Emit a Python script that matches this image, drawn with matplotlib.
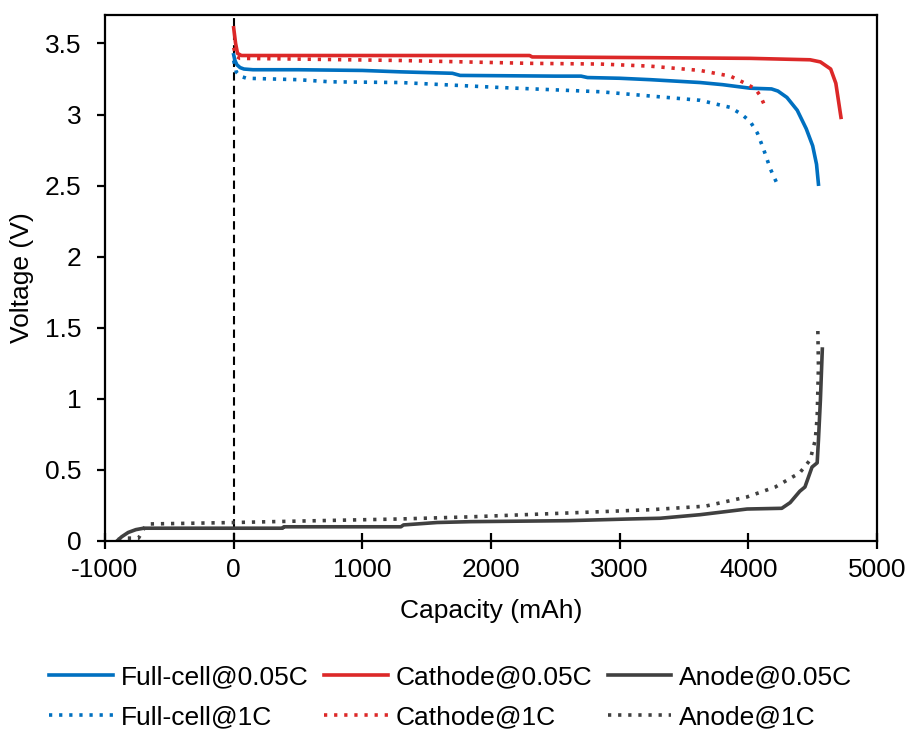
import matplotlib
matplotlib.use("Agg")
import matplotlib.pyplot as plt

plt.rcParams['font.family'] = ['Liberation Sans', 'DejaVu Sans']
plt.rcParams['axes.unicode_minus'] = False

# ---- data ----
fc05_x = [0, 10, 25, 50, 80, 150, 500, 1000, 1300, 1700, 1760, 2500, 2700, 2750, 3000, 3240, 3625, 3800, 4015, 4180, 4230, 4300, 4380, 4450, 4500, 4530, 4545]
fc05_v = [3.42, 3.38, 3.35, 3.33, 3.32, 3.315, 3.315, 3.31, 3.30, 3.29, 3.275, 3.27, 3.27, 3.26, 3.255, 3.245, 3.225, 3.21, 3.185, 3.18, 3.165, 3.12, 3.03, 2.90, 2.78, 2.65, 2.51]

fc1_x = [0, 20, 50, 100, 500, 750, 1295, 2070, 2850, 3240, 3625, 3860, 3950, 4015, 4070, 4117, 4170, 4225]
fc1_v = [3.38, 3.30, 3.27, 3.255, 3.245, 3.23, 3.225, 3.19, 3.16, 3.13, 3.10, 3.05, 3.00, 2.95, 2.87, 2.76, 2.62, 2.51]

ca05_x = [0, 15, 30, 60, 500, 2300, 2320, 3240, 4015, 4480, 4560, 4640, 4680, 4700, 4720]
ca05_v = [3.61, 3.50, 3.43, 3.415, 3.415, 3.415, 3.405, 3.40, 3.395, 3.385, 3.37, 3.32, 3.22, 3.10, 2.98]

ca1_x = [0, 20, 50, 500, 1295, 2300, 2850, 3240, 3625, 3860, 3975, 4055, 4094, 4133]
ca1_v = [3.47, 3.41, 3.395, 3.39, 3.38, 3.36, 3.355, 3.34, 3.31, 3.27, 3.22, 3.18, 3.13, 3.05]

an05_x = [-907, -870, -820, -760, -700, -650, 0, 380, 390, 1300, 1320, 1580, 1840, 2600, 3080, 3315, 3625, 3990, 4260, 4325, 4400, 4440, 4495, 4535, 4545, 4560, 4575]
an05_v = [0.0, 0.03, 0.06, 0.08, 0.09, 0.09, 0.09, 0.09, 0.10, 0.10, 0.113, 0.13, 0.136, 0.143, 0.155, 0.16, 0.185, 0.225, 0.23, 0.27, 0.35, 0.38, 0.52, 0.55, 0.71, 0.99, 1.35]

an1_x = [-900, -850, -740, -720, -690, -650, 0, 500, 1295, 1840, 2540, 3240, 3665, 3990, 4210, 4400, 4480, 4520, 4535, 4545, 4540]
an1_v = [0.01, 0.02, 0.02, 0.05, 0.10, 0.12, 0.13, 0.14, 0.155, 0.17, 0.195, 0.22, 0.245, 0.31, 0.38, 0.48, 0.57, 0.71, 0.87, 1.23, 1.49]

x_ticks = [-1000, 0, 1000, 2000, 3000, 4000, 5000]
y_ticks = [0, 0.5, 1, 1.5, 2, 2.5, 3, 3.5]
y_ticklabels = ['0', '0.5', '1', '1.5', '2', '2.5', '3', '3.5']

BLUE = '#0070C0'
RED = '#DC2828'
DARK = '#404040'
FS = 19

fig = plt.figure(figsize=(9.11, 7.38), dpi=100)
ax = fig.add_axes([105/911, 1-541/738, (877-105)/911, (541-15)/738])

lw = 2.6
dot = (0, (0.9, 1.9))
ax.axvline(0, color='black', lw=1.5, ls=(0, (4, 2.5)), zorder=1)
l1, = ax.plot(fc05_x, fc05_v, color=BLUE, lw=lw, label='Full-cell@0.05C')
l2, = ax.plot(fc1_x, fc1_v, color=BLUE, lw=lw, ls=dot, label='Full-cell@1C')
l3, = ax.plot(ca05_x, ca05_v, color=RED, lw=lw, label='Cathode@0.05C')
l4, = ax.plot(ca1_x, ca1_v, color=RED, lw=lw, ls=dot, label='Cathode@1C')
l5, = ax.plot(an05_x, an05_v, color=DARK, lw=lw, label='Anode@0.05C')
l6, = ax.plot(an1_x, an1_v, color=DARK, lw=lw, ls=dot, label='Anode@1C')

ax.set_xlim(-1000, 5000)
ax.set_ylim(0, 3.7)
ax.set_xticks(x_ticks)
ax.set_xticklabels([str(t) for t in x_ticks])
ax.set_yticks(y_ticks)
ax.set_yticklabels(y_ticklabels)
for s in ax.spines.values():
    s.set_linewidth(1.6)
ax.tick_params(axis='x', direction='inout', length=11, width=1.6, labelsize=FS, pad=7)
ax.tick_params(axis='y', direction='out', length=6, width=1.6, labelsize=FS, pad=11)
ax.set_xlabel('Capacity (mAh)', fontsize=FS, labelpad=12)
ax.set_ylabel('Voltage (V)', fontsize=FS, labelpad=8)

fig.legend(handles=[l1, l2, l3, l4, l5, l6], ncol=3, loc='center',
           bbox_to_anchor=(0.495, 0.055), frameon=False, fontsize=FS,
           handlelength=2.4, handletextpad=0.3, columnspacing=0.6,
           labelspacing=0.6, borderpad=0.2)

fig.savefig('out.png', dpi=100)
